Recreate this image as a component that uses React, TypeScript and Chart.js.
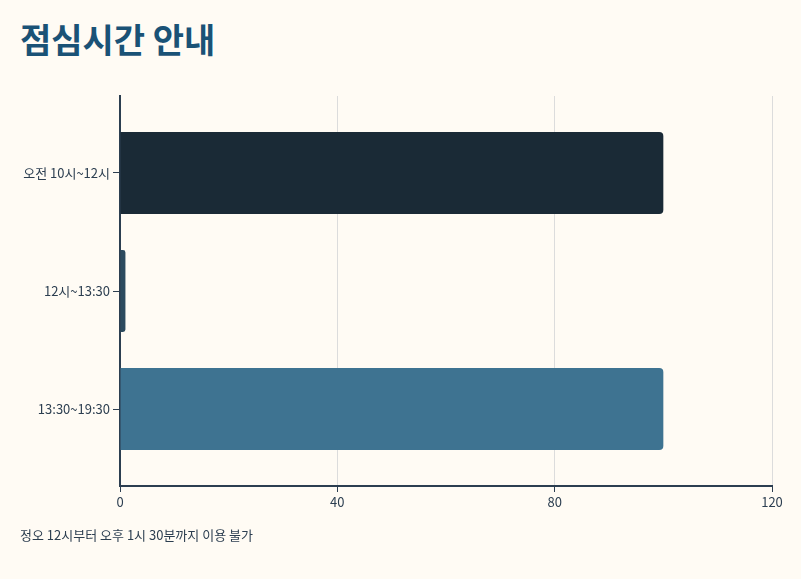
import React, { useEffect, useRef } from "react";
import Chart from "chart.js/auto";

const slots: string[] = ["오전 10시~12시", "12시~13:30", "13:30~19:30"];
const availability: number[] = [100, 1, 100];
const barColors: string[] = ["#1a2a36", "#2c4a5e", "#3e7391"];
const xTicks: number[] = [0, 40, 80, 120];

const FONT = "'Noto Sans CJK KR', 'Noto Sans', sans-serif";
const INK = "#2c3e50";

const App: React.FC = () => {
  const canvasRef = useRef<HTMLCanvasElement | null>(null);

  useEffect(() => {
    document.body.style.margin = "0";
    if (!canvasRef.current) return;

    const chart = new Chart(canvasRef.current, {
      type: "bar",
      data: {
        datasets: [
          {
            data: availability.map((v, i) => ({ x: v, y: i })) as any,
            backgroundColor: barColors,
            borderRadius: 4,
            borderSkipped: "start",
            barPercentage: 0.695,
            categoryPercentage: 1
          }
        ]
      },
      options: {
        indexAxis: "y",
        animation: false,
        responsive: false,
        maintainAspectRatio: false,
        layout: { padding: { left: 0, right: 29, top: 96, bottom: 63 } },
        plugins: {
          legend: { display: false },
          tooltip: { enabled: false }
        },
        scales: {
          x: {
            type: "linear",
            min: 0,
            max: 120,
            afterBuildTicks: (scale: any) => {
              scale.ticks = xTicks.map((v) => ({ value: v }));
            },
            afterFit: (scale: any) => {
              scale.height = 30;
            },
            grid: {
              color: "#dcdcdc",
              lineWidth: 1,
              tickColor: INK,
              tickLength: 6
            },
            border: { color: INK, width: 2 },
            ticks: { color: INK, font: { family: FONT, size: 13 }, padding: 2 }
          },
          y: {
            type: "linear",
            reverse: true,
            min: -0.6525,
            max: slots.length - 1 + 0.6525,
            offset: false,
            afterBuildTicks: (scale: any) => {
              scale.ticks = slots.map((_, i) => ({ value: i }));
            },
            afterFit: (scale: any) => {
              scale.width = 120;
            },
            grid: {
              offset: false,
              drawOnChartArea: false,
              tickColor: INK,
              tickLength: 7
            },
            border: { color: INK, width: 2 },
            ticks: {
              color: INK,
              font: { family: FONT, size: 13 },
              padding: 3,
              callback: (value: any) => slots[Number(value)] ?? ""
            }
          }
        }
      }
    });

    return () => chart.destroy();
  }, []);

  return (
    <div
      style={{
        position: "relative",
        width: "801px",
        height: "579px",
        background: "#fffbf4",
        fontFamily: FONT,
        overflow: "hidden"
      }}
    >
      <div
        style={{
          position: "absolute",
          left: "20px",
          top: "15px",
          fontSize: "34px",
          fontWeight: 700,
          color: "#1a5276",
          lineHeight: "48px"
        }}
      >
        점심시간 안내
      </div>
      <canvas
        ref={canvasRef}
        width={801}
        height={579}
        style={{ position: "absolute", left: 0, top: 0 }}
      ></canvas>
      <div
        style={{
          position: "absolute",
          left: "20px",
          top: "526px",
          fontSize: "13px",
          color: INK,
          lineHeight: "18px"
        }}
      >
        정오 12시부터 오후 1시 30분까지 이용 불가
      </div>
    </div>
  );
};

export default App;
